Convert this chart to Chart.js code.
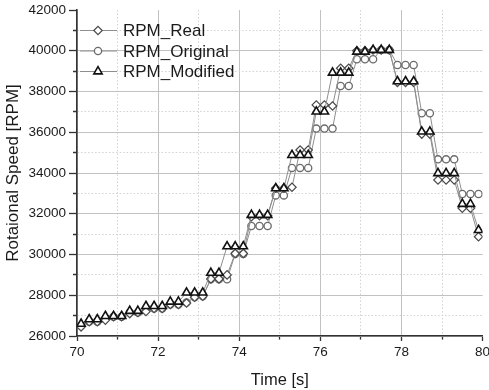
<!DOCTYPE html>
<html>
<head>
<meta charset="utf-8">
<script src="https://cdn.jsdelivr.net/npm/chart.js@4/dist/chart.umd.min.js"></script>
<style>
    html, body { margin: 0; padding: 0; background: #fff; }
    #wrap { width: 489px; height: 390px; }
</style>
</head>
<body>
<div id="wrap"><canvas id="chart1" width="489" height="390"></canvas></div>
<script>
const timeS = [
    70.1, 70.3, 70.5, 70.7, 70.9, 71.1, 71.3, 71.5, 71.7, 71.9,
    72.1, 72.3, 72.5, 72.7, 72.9, 73.1, 73.3, 73.5, 73.7, 73.9,
    74.1, 74.3, 74.5, 74.7, 74.9, 75.1, 75.3, 75.5, 75.7, 75.9,
    76.1, 76.3, 76.5, 76.7, 76.9, 77.1, 77.3, 77.5, 77.7, 77.9,
    78.1, 78.3, 78.5, 78.7, 78.9, 79.1, 79.3, 79.5, 79.7, 79.9,
];

const rpmReal = [
    26450, 26700, 26700, 26780, 26950, 26950, 27100, 27150, 27200, 27350,
    27350, 27550, 27550, 27620, 27900, 27950, 28800, 28800, 29000, 30050,
    30050, 31850, 31900, 31900, 33250, 33250, 33300, 35130, 35130, 37340,
    37340, 37290, 39140, 39140, 40000, 40000, 40040, 40040, 40040, 38450,
    38450, 38450, 35910, 35910, 33660, 33660, 33660, 32270, 32270, 30870,
];

const rpmOriginal = [
    26500, 26700, 26700, 26850, 26950, 26950, 27150, 27150, 27300, 27350,
    27350, 27550, 27550, 27650, 27900, 27950, 28780, 28780, 28780, 30020,
    30020, 31400, 31400, 31400, 32900, 32900, 34250, 34250, 34250, 36180,
    36180, 36180, 38270, 38270, 39580, 39580, 39580, 40040, 40040, 39300,
    39300, 39300, 36930, 36930, 34670, 34670, 34670, 32970, 32970, 32970,
];

const rpmModified = [
    26600, 26820, 26820, 26980, 26980, 26980, 27230, 27230, 27470, 27470,
    27470, 27680, 27680, 28130, 28130, 28130, 29100, 29100, 30400, 30400,
    30400, 31940, 31940, 31940, 33250, 33250, 34880, 34880, 34880, 37010,
    37010, 38920, 38920, 38920, 39950, 39950, 40040, 40040, 40040, 38500,
    38500, 38500, 36030, 36030, 33990, 33990, 33990, 32480, 32480, 31200,
];

const xTicks = { min: 70, max: 80, step: 1 };
const yTicks = { min: 26000, max: 42000, step: 1000 };

const toPoints = (values) => values.map((v, i) => ({ x: timeS[i], y: v }));

const series = (label, values, style) => ({
    label,
    data: toPoints(values),
    borderColor: '#8e8e8e',
    borderWidth: 1,
    pointBackgroundColor: '#fff',
    pointRadius: style.radius,
    pointHoverRadius: style.radius,
    pointStyle: style.shape,
    pointBorderColor: style.color,
    pointBorderWidth: style.width,
    order: style.order,
    tension: 0,
});

// legend drawn inside the plot, top-left, with line + marker like the original
const areaLegend = {
    id: 'areaLegend',
    afterDraw(chart) {
        const { ctx, chartArea } = chart;
        const x0 = chartArea.left + 3;
        ctx.save();
        chart.data.datasets.forEach((ds, i) => {
            const y = chartArea.top + 20.5 + i * 20.5;
            ctx.strokeStyle = ds.borderColor;
            ctx.lineWidth = 1;
            ctx.beginPath();
            ctx.moveTo(x0, y);
            ctx.lineTo(x0 + 37, y);
            ctx.stroke();

            ctx.fillStyle = '#fff';
            ctx.strokeStyle = ds.pointBorderColor;
            ctx.lineWidth = ds.pointBorderWidth;
            Chart.helpers.drawPoint(ctx, {
                pointStyle: ds.pointStyle,
                radius: ds.pointRadius,
                borderWidth: ds.pointBorderWidth,
                rotation: 0,
            }, x0 + 18, y);

            ctx.fillStyle = '#1a1a1a';
            ctx.font = '17px "Liberation Sans", Arial, sans-serif';
            ctx.textBaseline = 'middle';
            ctx.textAlign = 'left';
            ctx.fillText(ds.label, x0 + 43, y + 1);
        });
        ctx.restore();
    },
};

Chart.defaults.font.family = '"Liberation Sans", Arial, sans-serif';
Chart.defaults.color = '#1a1a1a';

const isMinor = (c, step) => c.tick && Math.round(c.tick.value / step) % 2 !== 0;

new Chart(document.getElementById('chart1'), {
    type: 'line',
    data: {
        datasets: [
            series('RPM_Real', rpmReal, { shape: 'rectRot', radius: 4.2, color: '#4a4a4a', width: 1.2, order: 1 }),
            series('RPM_Original', rpmOriginal, { shape: 'circle', radius: 3.6, color: '#6a6a6a', width: 1.3, order: 2 }),
            series('RPM_Modified', rpmModified, { shape: 'triangle', radius: 4.8, color: '#111', width: 1.6, order: 0 }),
        ],
    },
    options: {
        responsive: false,
        animation: false,
        events: [],
        layout: { padding: { top: 10, right: 6, left: 0, bottom: 0 } },
        plugins: { legend: { display: false }, tooltip: { enabled: false } },
        scales: {
            x: {
                type: 'linear',
                min: xTicks.min,
                max: xTicks.max,
                afterFit: (scale) => {
                    scale.height = 54;
                    scale.paddingLeft = 0;
                    scale.paddingRight = 0;
                },
                ticks: {
                    stepSize: xTicks.step,
                    autoSkip: false,
                    maxRotation: 0,
                    padding: 3,
                    font: { size: 13.5 },
                    color: '#1a1a1a',
                    callback: (value) => (value % 2 === 0 ? String(value) : ''),
                },
                grid: {
                    color: (c) => {
                        if (!c.tick || c.tick.value === xTicks.max) return 'rgba(0,0,0,0)';
                        return isMinor(c, xTicks.step) ? '#d2d2d2' : '#c2c2c2';
                    },
                    lineWidth: 1,
                    tickLength: 5,
                    tickColor: '#333',
                    tickWidth: 1.3,
                    tickBorderDash: (c) => (isMinor(c, xTicks.step) ? [3, 50] : []),
                },
                border: {
                    color: '#333',
                    width: 1.6,
                    dash: (c) => (isMinor(c, xTicks.step) ? [1.5, 2] : []),
                },
                title: {
                    display: true,
                    text: 'Time [s]',
                    font: { size: 16.5 },
                    color: '#1a1a1a',
                    padding: { top: 0, bottom: 0 },
                },
            },
            y: {
                type: 'linear',
                min: yTicks.min,
                max: yTicks.max,
                afterFit: (scale) => {
                    scale.width = 77;
                    scale.paddingTop = 0;
                    scale.paddingBottom = 0;
                },
                ticks: {
                    stepSize: yTicks.step,
                    autoSkip: false,
                    padding: 3,
                    font: { size: 13.5 },
                    color: '#1a1a1a',
                    callback: (value) => (value % 2000 === 0 ? String(value) : ''),
                },
                grid: {
                    color: (c) => {
                        if (!c.tick || c.tick.value === yTicks.max) return 'rgba(0,0,0,0)';
                        return isMinor(c, yTicks.step) ? '#d2d2d2' : '#c2c2c2';
                    },
                    lineWidth: 1,
                    tickLength: 8,
                    tickColor: '#333',
                    tickWidth: 1.3,
                    tickBorderDash: (c) => (isMinor(c, yTicks.step) ? [0, 4, 50] : []),
                },
                border: {
                    color: '#333',
                    width: 1.6,
                    dash: (c) => (isMinor(c, yTicks.step) ? [1.5, 2] : []),
                },
                title: {
                    display: true,
                    text: 'Rotaional Speed [RPM]',
                    font: { size: 17 },
                    color: '#1a1a1a',
                    padding: { top: 3, bottom: 0 },
                },
            },
        },
    },
    plugins: [areaLegend],
});
</script>
</body>
</html>
